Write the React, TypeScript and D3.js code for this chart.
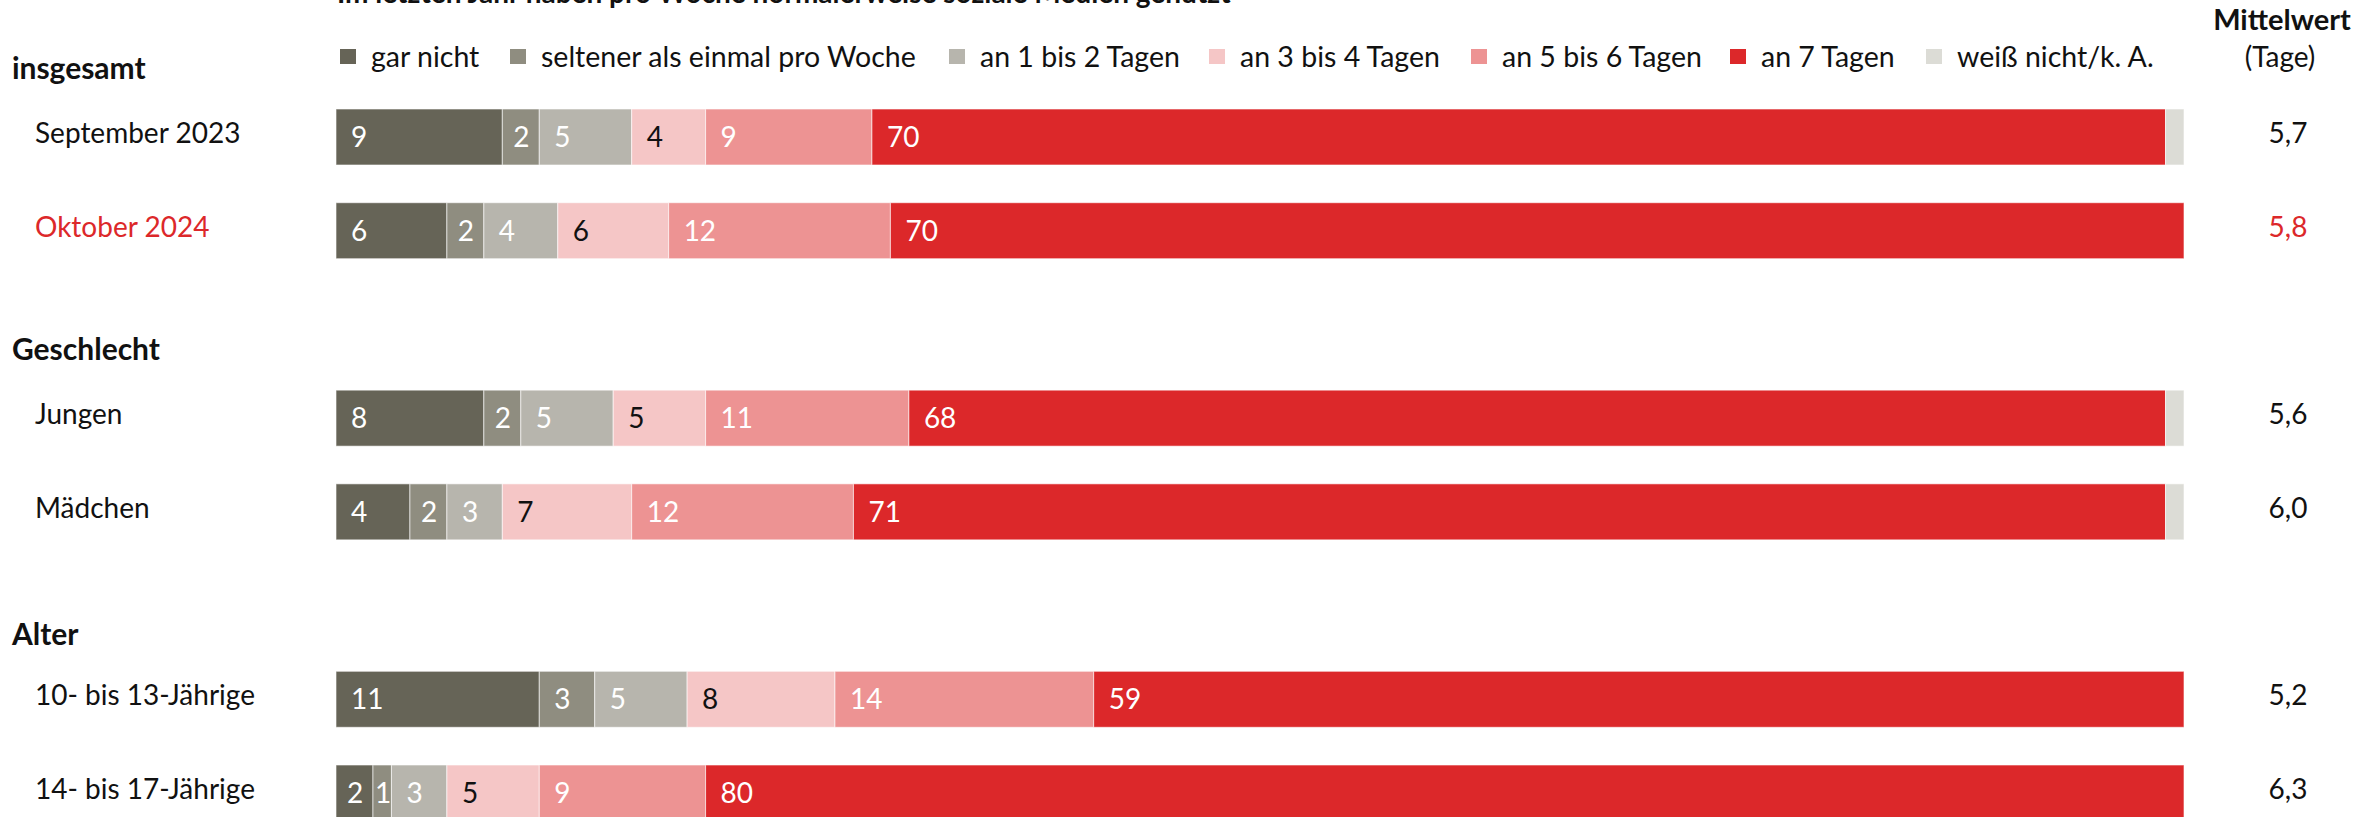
import React from "react";
import * as d3 from "d3";

const categories = [
  "gar nicht",
  "seltener als einmal pro Woche",
  "an 1 bis 2 Tagen",
  "an 3 bis 4 Tagen",
  "an 5 bis 6 Tagen",
  "an 7 Tagen",
  "weiß nicht/k. A.",
];
const colors = ["#666457", "#8f8d80", "#b7b5ad", "#f5c6c6", "#ed9393", "#dc282a", "#dcdcd6"];
const labelColors = ["#fff", "#fff", "#fff", "#111", "#fff", "#fff", "#111"];

const rowLabels = [
  "September 2023",
  "Oktober 2024",
  "Jungen",
  "Mädchen",
  "10- bis 13-Jährige",
  "14- bis 17-Jährige",
];
const rowSlots = [0, 1, 3, 4, 6, 7];
const groupLabels = ["insgesamt", "Geschlecht", "Alter"];
const groupSlots = [0, 3, 6];

const garNicht = [9, 6, 8, 4, 11, 2];
const seltener = [2, 2, 2, 2, 3, 1];
const an1bis2 = [5, 4, 5, 3, 5, 3];
const an3bis4 = [4, 6, 5, 7, 8, 5];
const an5bis6 = [9, 12, 11, 12, 14, 9];
const an7 = [70, 70, 68, 71, 59, 80];
const weissNicht = [1, 0, 1, 1, 0, 0];
const means = [5.7, 5.8, 5.6, 6.0, 5.2, 6.3];

const series = [garNicht, seltener, an1bis2, an3bis4, an5bis6, an7, weissNicht];
const highlightRow = 1;

const title = "Im letzten Jahr haben pro Woche normalerweise soziale Medien genutzt";
const legendX = [340, 510, 949, 1209, 1471, 1730, 1926];

const W = 2379;
const H = 817;
const FONT = "Lato, 'Open Sans', sans-serif";
const RED = "#dc282a";

export default function App() {
  const x = d3.scaleLinear().domain([0, 100]).range([336, 2184]);
  const y = d3.scaleLinear().domain([0, 7]).range([137, 793]);
  const barH = 56;
  const fmt = (v: number) => d3.format(".1f")(v).replace(".", ",");

  const rows = rowLabels.map((label, i) => {
    const vals = series.map((s) => s[i]);
    const stack = d3.cumsum(vals);
    return { label, i, vals, starts: vals.map((v, k) => stack[k] - v) };
  });

  return (
    <svg
      width={W}
      height={H}
      style={{ position: "absolute", left: 0, top: 0, background: "#fff" }}
      fontFamily={FONT}
    >
      <text x={337} y={3} fontSize={28} fontWeight={700} fill="#111">
        {title}
      </text>

      {categories.map((c, k) => (
        <g key={c}>
          <rect x={legendX[k]} y={49} width={16} height={15} fill={colors[k]} />
          <text x={legendX[k] + 31} y={67} fontSize={28.5} fill="#111">
            {c}
          </text>
        </g>
      ))}

      <text x={2282} y={30} fontSize={29} fontWeight={700} textAnchor="middle" fill="#111">
        Mittelwert
      </text>
      <text x={2280} y={67} fontSize={28} textAnchor="middle" fill="#111">
        (Tage)
      </text>

      {groupLabels.map((g, j) => (
        <text
          key={g}
          x={12}
          y={y(groupSlots[j]) - 58 + (j === 2 ? 4 : 0)}
          fontSize={30}
          fontWeight={700}
          fill="#111"
        >
          {g}
        </text>
      ))}

      {rows.map((r) => {
        const cy = y(rowSlots[r.i]);
        const hl = r.i === highlightRow;
        return (
          <g key={r.label}>
            <text x={35} y={cy + 6} fontSize={28} fill={hl ? RED : "#111"}>
              {r.label}
            </text>
            {r.vals.map((v, k) => {
              if (v <= 0) return null;
              const x0 = x(r.starts[k]);
              const w = x(r.starts[k] + v) - x0;
              const tw = String(v).length * 15;
              const off = Math.min(15, Math.max(2, (w - tw) / 2));
              return (
                <g key={k}>
                  <rect
                    x={x0}
                    y={cy - barH / 2}
                    width={w}
                    height={barH}
                    fill={colors[k]}
                    stroke="#fff"
                    strokeOpacity={0.6}
                    strokeWidth={1}
                  />
                  {k < 6 && (
                    <text x={x0 + off} y={cy + 10} fontSize={28} fill={labelColors[k]}>
                      {v}
                    </text>
                  )}
                </g>
              );
            })}
            <text x={2288} y={cy + 6} fontSize={28} textAnchor="middle" fill={hl ? RED : "#111"}>
              {fmt(means[r.i])}
            </text>
          </g>
        );
      })}
    </svg>
  );
}
